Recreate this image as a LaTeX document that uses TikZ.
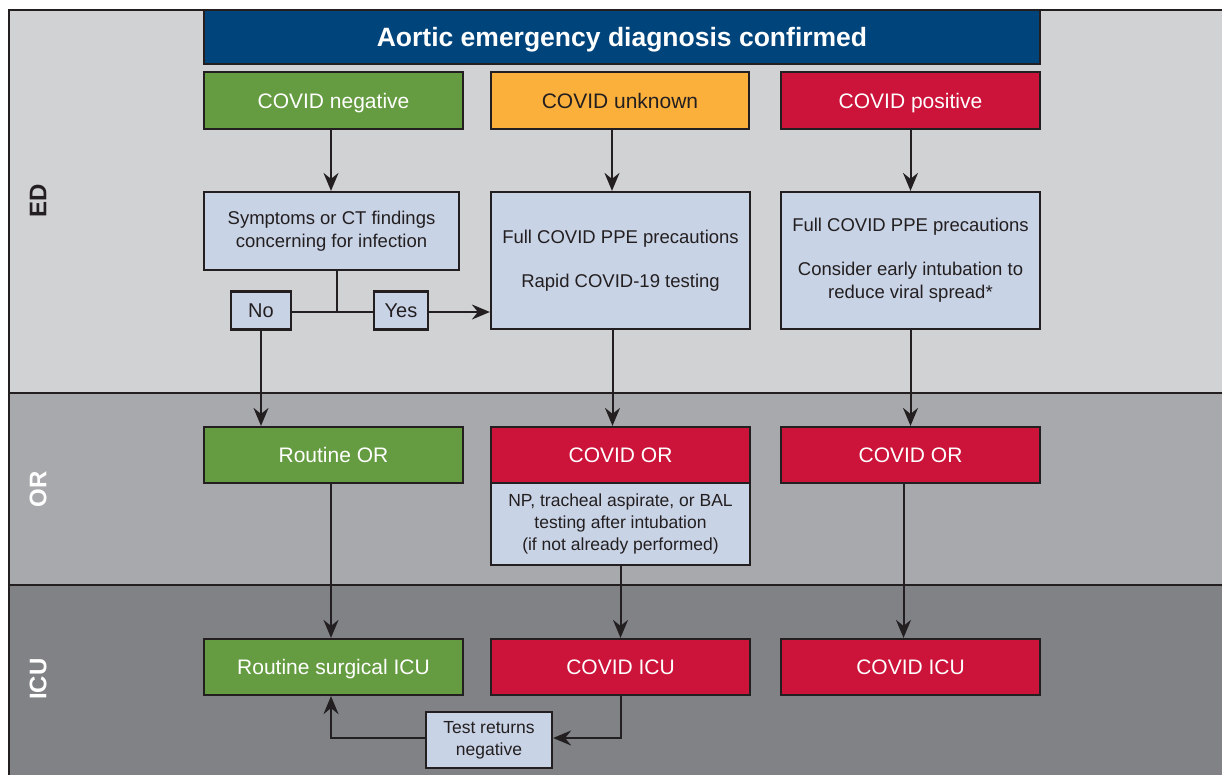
\documentclass[tikz,border=0pt]{standalone}
\usepackage{fontspec}
\setmainfont{Liberation Sans}
\usetikzlibrary{arrows.meta}
\definecolor{navy}{HTML}{00447C}
\definecolor{cgreen}{HTML}{659C41}
\definecolor{cyellow}{HTML}{FBB03B}
\definecolor{cred}{HTML}{CC1339}
\definecolor{cblue}{HTML}{C9D3E6}
\definecolor{bandA}{HTML}{D1D2D4}
\definecolor{bandB}{HTML}{A7A9AC}
\definecolor{bandC}{HTML}{808285}
\definecolor{linec}{HTML}{231F20}
\tikzset{
  bx/.style={draw=linec, line width=2.2pt, inner sep=0pt, align=center},
  colbox/.style={bx, text=white, font=\fontsize{21}{25}\selectfont, text height=15pt, text depth=0pt},
  bluebox/.style={bx, fill=cblue, text=linec, font=\fontsize{18.5}{23}\selectfont},
  arr/.style={draw=linec, line width=2pt, -{Stealth[length=18pt,width=15pt,inset=6pt]}},
  ln/.style={draw=linec, line width=2pt},
  band/.style={draw=linec, line width=2pt},
  lanelbl/.style={font=\fontsize{24}{28}\selectfont\bfseries, rotate=90}
}
\begin{document}
\begin{tikzpicture}[x=1pt,y=-1pt]
\useasboundingbox (0,0) rectangle (1222,774);
\fill[white] (0,0) rectangle (1222,774);
% bands
\path[band, fill=bandA] (9,10) rectangle (1240,393);
\path[band, fill=bandB] (9,393) rectangle (1240,585);
\path[band, fill=bandC] (9,585) rectangle (1240,790);
\node[lanelbl, text=linec] (lED) at (38,201) {ED};
\node[lanelbl, text=white] (lOR) at (38,489) {OR};
\node[lanelbl, text=white] (lICU) at (38,679) {ICU};
% title
\node[bx, fill=navy, text=white, minimum width=836, minimum height=54, font=\fontsize{26.5}{30}\selectfont\bfseries, text height=19pt, text depth=0pt] (title) at (622,37) {Aortic emergency diagnosis confirmed};
% row 1
\node[colbox, fill=cgreen, minimum width=259, minimum height=57] (neg) at (333.5,100.5) {COVID negative};
\node[colbox, fill=cyellow, text=linec, minimum width=258, minimum height=57] (unk) at (620,100.5) {COVID unknown};
\node[colbox, fill=cred, minimum width=259, minimum height=57] (pos) at (910.5,100.5) {COVID positive};
% row 2
\node[bluebox, minimum width=255, minimum height=78] (symp) at (331.5,231) {Symptoms or CT findings\\concerning for infection};
\node[bluebox, minimum width=259, minimum height=137] (unkppe) at (620.5,260.5) {Full COVID PPE precautions\\[21pt]Rapid COVID-19 testing};
\node[bluebox, minimum width=259, minimum height=137] (posppe) at (910.5,260.5) {Full COVID PPE precautions\\[21pt]Consider early intubation to\\reduce viral spread*};
\node[bluebox, font=\fontsize{20}{24}\selectfont, minimum width=60, minimum height=38, text height=14.5pt, text depth=0pt] (no) at (261,310.5) {No};
\node[bluebox, font=\fontsize{20}{24}\selectfont, minimum width=54, minimum height=38, text height=14.5pt, text depth=0pt] (yes) at (401,310.5) {Yes};
\coordinate (j) at (337,312);
% OR row
\node[colbox, fill=cgreen, minimum width=259, minimum height=56] (routor) at (333.5,455) {Routine OR};
\node[colbox, fill=cred, minimum width=259, minimum height=56] (covor1) at (620.5,455) {COVID OR};
\node[bluebox, font=\fontsize{17.5}{22}\selectfont, minimum width=259, minimum height=82] (np) at (620.5,524) {NP, tracheal aspirate, or BAL\\testing after intubation\\(if not already performed)};
\node[colbox, fill=cred, minimum width=259, minimum height=56] (covor2) at (910.5,455) {COVID OR};
% ICU row
\node[colbox, fill=cgreen, minimum width=259, minimum height=56] (routicu) at (333.5,667) {Routine surgical ICU};
\node[colbox, fill=cred, minimum width=259, minimum height=56] (covicu1) at (620.5,667) {COVID ICU};
\node[colbox, fill=cred, minimum width=259, minimum height=56] (covicu2) at (910.5,667) {COVID ICU};
\node[bluebox, font=\fontsize{17.5}{22}\selectfont, minimum width=126, minimum height=56] (test) at (489,740) {Test returns\\negative};
% connectors
\draw[arr] ([xshift=-2.5pt]neg.south) -- ([xshift=-2.5pt]neg.south |- symp.north);
\draw[arr] ([xshift=-8pt]unk.south) -- ([xshift=-8pt]unk.south |- unkppe.north);
\draw[arr] (pos.south) -- (pos.south |- posppe.north);
\draw[ln] (symp.south -| j) -- (j);
\draw[ln] (no.east |- j) -- (yes.west |- j);
\draw[arr] (yes.east |- j) -- (unkppe.west |- j);
\draw[arr] (no.south) -- (no.south |- routor.north);
\draw[arr] ([xshift=-8pt]unkppe.south) -- ([xshift=-8pt]unkppe.south |- covor1.north);
\draw[arr] (posppe.south) -- (posppe.south |- covor2.north);
\draw[arr] ([xshift=-2.5pt]routor.south) -- ([xshift=-2.5pt]routor.south |- routicu.north);
\draw[arr] (np.south) -- (np.south |- covicu1.north);
\draw[arr] ([xshift=-7pt]covor2.south) -- ([xshift=-7pt]covor2.south |- covicu2.north);
\draw[arr] (covicu1.south) |- ([yshift=2pt]test.east);
\draw[arr] ([yshift=2pt]test.west) -| ([xshift=-2.5pt]routicu.south);
\end{tikzpicture}
\end{document}
